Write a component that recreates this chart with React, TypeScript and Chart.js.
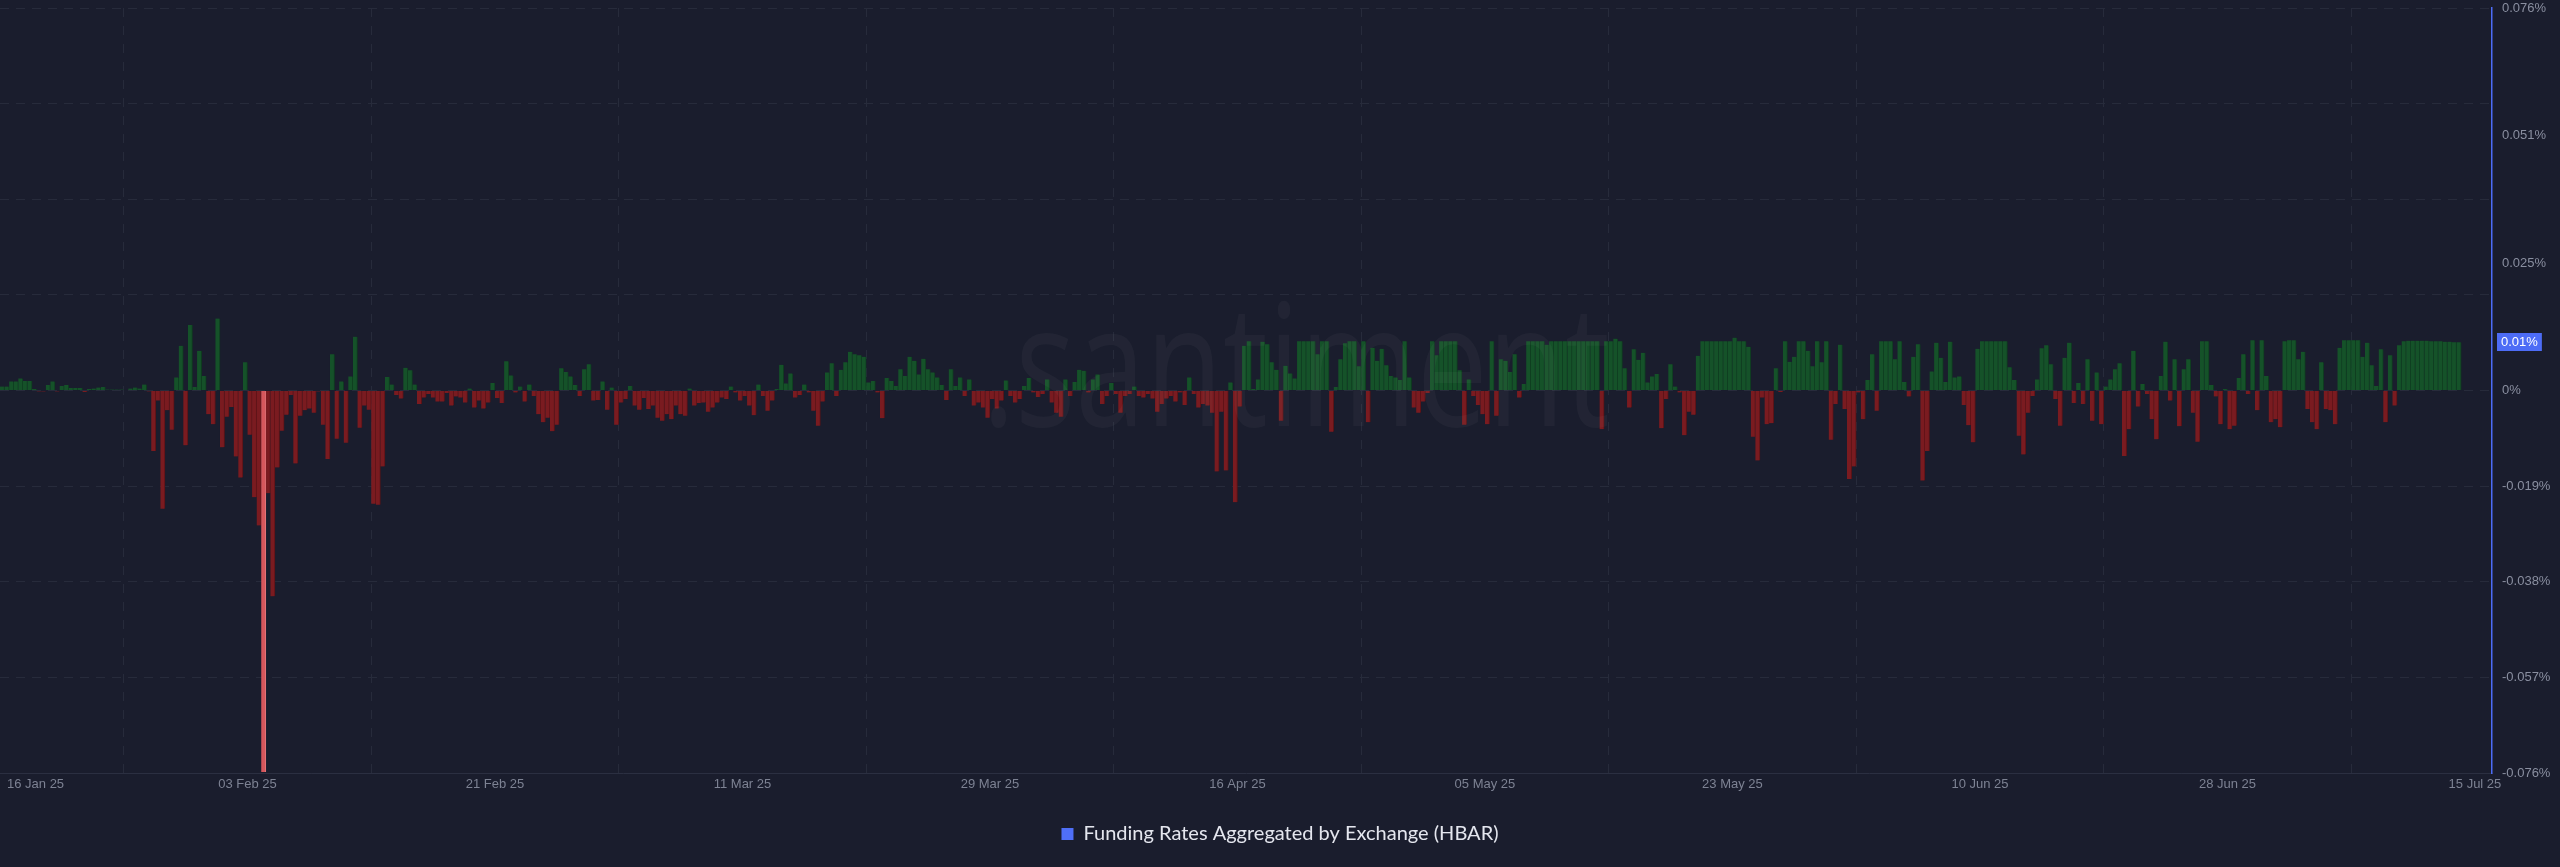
import React, { useEffect, useRef } from "react";
import { Chart, registerables } from "chart.js";

Chart.register(...registerables);

// ---- data ----
const SERIES_NAME = "Funding Rates Aggregated by Exchange (HBAR)";
const PERIODS_PER_DAY = 3; // 8h funding periods, first period starts 16 Jan 25

// funding rate (%) per 8h period
const ratesJan = [
  0.0008, 0.0008, 0.0018, 0.0018, 0.0024, 0.0019, 0.0019, 0.0003, -0.0002, -0.0002,
  0.0011, 0.0018, -0.0002, 0.0009, 0.0011, 0.0005, 0.0005, 0.0005, -0.0003, 0.0003,
  0.0004, 0.0006, 0.0007, 0.0002, 0.0002, 0.0002, 0.0002, 0.0001, 0.0004, 0.0006,
  0.0004, 0.0012, -0.0002, -0.012, -0.002, -0.0235, -0.0039, -0.0078, 0.0026, 0.0089,
  -0.0109, 0.013, 0.0007, 0.0079, 0.0029, -0.0047, -0.0067, 0.0143,
];
const ratesFeb = [
  -0.0113, -0.0052, -0.0033, -0.0131, -0.0173, 0.0056, -0.0088, -0.0212, -0.0268, -0.0758,
  -0.0204, -0.0409, -0.0153, -0.008, -0.0048, -0.0009, -0.0145, -0.005, -0.0039, -0.0036,
  -0.0044, -0.0002, -0.0068, -0.0136, 0.0072, -0.0096, 0.0018, -0.0104, 0.0028, 0.0107,
  -0.0074, -0.003, -0.0038, -0.0225, -0.0227, -0.0151, 0.0027, 0.0012, -0.0009, -0.0016,
  0.0045, 0.004, 0.0012, -0.0027, -0.0014, -0.0007, -0.0014, -0.0022, -0.0022, -0.0005,
  -0.003, -0.0012, -0.0014, -0.0024, 0.0004, -0.0034, -0.002, -0.0036, -0.0024, 0.0015,
  -0.0015, -0.0025, 0.0058, 0.003, -0.0004, 0.0008, -0.0022, 0.0012, -0.0011, -0.0047,
  -0.0063, -0.0054, -0.0081, -0.0068, 0.0044, 0.0037, 0.0028, 0.0011, -0.0011, 0.0042,
  0.0052, -0.002, -0.0019, 0.0018,
];
const ratesMar = [
  -0.0038, 0.0006, -0.0068, -0.0024, -0.0017, 0.0009, -0.003, -0.0038, -0.0015, -0.0037,
  -0.003, -0.0054, -0.006, -0.0047, -0.0057, -0.003, -0.0047, -0.005, 0.0004, -0.003,
  -0.0025, -0.0024, -0.0042, -0.0034, -0.0024, -0.0014, -0.0017, 0.0008, -0.0004, -0.002,
  -0.0011, -0.003, -0.0049, 0.0012, -0.0011, -0.004, -0.002, 0.0003, 0.0051, 0.0014,
  0.0034, -0.0014, -0.0009, 0.0012, -0.0004, -0.004, -0.007, -0.0022, 0.0036, 0.0054,
  -0.0011, 0.0041, 0.0056, 0.0077, 0.0072, 0.007, 0.0067, 0.0016, 0.0019, -0.0004,
  -0.0055, 0.0025, 0.0019, 0.0009, 0.0042, 0.0029, 0.0067, 0.0059, 0.0032, 0.0063,
  0.0042, 0.0036, 0.0026, 0.0011, -0.0019, 0.0042, 0.0009, 0.0026, -0.0011, 0.0022,
  -0.003, -0.0024, -0.0034, -0.0054, -0.0017, -0.0036, -0.002, 0.002, -0.0011, -0.0024,
  -0.0017, 0.0009, 0.0025,
];
const ratesApr = [
  -0.0004, -0.0013, -0.0007, 0.0022, -0.0024, -0.0044, -0.0052, 0.0022, -0.0011, 0.0017,
  0.0041, 0.0039, -0.0004, 0.0022, 0.0032, -0.0027, -0.0011, 0.0015, -0.0007, -0.0044,
  -0.0011, -0.0007, 0.0008, -0.0011, -0.0014, -0.0007, -0.0016, -0.0042, -0.0027, -0.0016,
  -0.0011, -0.0022, -0.0004, -0.0029, 0.0026, -0.0007, -0.0034, -0.0027, -0.003, -0.0044,
  -0.0161, -0.0042, -0.0159, 0.0016, -0.0222, -0.0032, 0.0089, 0.0098, 0.0003, 0.0022,
  0.0097, 0.0092, 0.0056, 0.0041, -0.006, 0.0049, 0.0034, 0.0024, 0.0098, 0.0098,
  0.0098, 0.0098, 0.0072, 0.0098, 0.0098, -0.0082, 0.0007, 0.0062, 0.0094, 0.0098,
  0.0098, 0.0048, 0.0098, -0.0063, 0.0085, 0.0059, 0.0083, 0.005, 0.0029, 0.0026,
  0.0021, 0.0098, 0.0026, -0.0034, -0.0044, -0.0022, -0.0005, 0.0098, 0.007, 0.0098,
];
const ratesMay = [
  0.0098, 0.0098, 0.0098, 0.004, -0.0068, 0.0022, -0.0011, -0.0029, -0.0047, -0.0067,
  0.0098, -0.005, 0.0062, 0.0059, 0.0037, 0.0072, -0.0014, 0.0013, 0.0098, 0.0098,
  0.0098, 0.0098, 0.0091, 0.0098, 0.0098, 0.0098, 0.0098, 0.0098, 0.0098, 0.0098,
  0.0098, 0.0098, 0.0098, 0.0098, -0.0077, 0.0098, 0.0098, 0.0103, 0.0098, 0.0044,
  -0.0034, 0.0082, 0.0061, 0.0075, 0.0016, 0.0028, 0.0033, -0.0075, -0.0017, 0.0052,
  0.0008, -0.0004, -0.0089, -0.0042, -0.0048, 0.0069, 0.0098, 0.0098, 0.0098, 0.0098,
  0.0098, 0.0098, 0.0098, 0.0105, 0.0098, 0.0098, 0.0087, -0.0092, -0.0139, -0.0014,
  -0.0067, -0.0065, 0.0044, -0.0003, 0.0098, 0.0057, 0.0067, 0.0098, 0.0098, 0.0079,
  0.0048, 0.0098, 0.0056, 0.0098, -0.0098, -0.0027, 0.0091, -0.0037, -0.0176, -0.0151,
  -0.0004, -0.0057, 0.0021,
];
const ratesJun = [
  0.0072, -0.004, 0.0098, 0.0098, 0.0098, 0.0062, 0.0098, 0.0017, -0.0012, 0.0067,
  0.0092, -0.0179, -0.012, 0.0038, 0.0095, 0.0065, 0.0017, 0.0097, 0.0026, 0.0028,
  -0.0029, -0.0069, -0.0103, 0.0083, 0.0098, 0.0098, 0.0098, 0.0098, 0.0098, 0.0098,
  0.0046, 0.0021, -0.009, -0.0127, -0.0044, -0.0011, 0.0022, 0.0084, 0.009, 0.0052,
  -0.0017, -0.007, 0.0065, 0.0095, -0.0025, 0.0015, -0.0027, 0.0062, -0.006, 0.0036,
  -0.0067, 0.0008, 0.0022, 0.0042, 0.0054, -0.013, -0.0077, 0.0079, -0.0032, 0.0013,
  -0.0007, -0.0057, -0.0097, 0.0029, 0.0097, -0.002, 0.0062, -0.0071, 0.0042, 0.0062,
  -0.0044, -0.0102, 0.0098, 0.0098, 0.0011, -0.0012, -0.0067, 0.0003, -0.0077, -0.007,
  0.0025, 0.0072, -0.0007, 0.01, -0.0039, 0.01, 0.0029, -0.0063, -0.0057, -0.0073,
];
const ratesJul = [
  0.0098, 0.01, 0.01, 0.0062, 0.0077, -0.0037, -0.0063, -0.0077, 0.0056, -0.0037,
  -0.0039, -0.0067, 0.0085, 0.01, 0.01, 0.01, 0.01, 0.0067, 0.0095, 0.005,
  0.0009, 0.0082, -0.0063, 0.007, -0.003, 0.009, 0.0098, 0.0099, 0.0099, 0.0099,
  0.0099, 0.0099, 0.0098, 0.0098, 0.0098, 0.0097, 0.0097, 0.0096, 0.0096,
];

const HIGHLIGHT_INDEX = 57; // hovered bar in the screenshot

// x axis (days after 16 Jan 25)
const xTickDays = [0, 18, 36, 54, 72, 90, 108, 126, 144, 162, 180];
const xTickLabels = [
  "16 Jan 25", "03 Feb 25", "21 Feb 25", "11 Mar 25", "29 Mar 25", "16 Apr 25",
  "05 May 25", "23 May 25", "10 Jun 25", "28 Jun 25", "15 Jul 25",
];
const X_MAX_DAYS = 181.24;

// y axis
const Y_MIN = -0.076;
const Y_MAX = 0.076;
const yTickValues = [-0.076, -0.057, -0.038, -0.019, 0, 0.019, 0.0253, 0.038, 0.0507, 0.057, 0.076];
const yTickLabels = ["-0.076%", "-0.057%", "-0.038%", "-0.019%", "0%", "", "0.025%", "", "0.051%", "", "0.076%"];
const yTickHasGrid = [true, true, true, true, true, true, false, true, false, true, true];

// ---- styling ----
const BG = "#1a1d2d";
const GREEN = "#155229";
const GREEN_EDGE = "#0f3b20";
const RED = "#7a1b20";
const RED_EDGE = "#5a1317";
const HIGHLIGHT = "#d6575c";
const HIGHLIGHT_EDGE = "#e57a7d";
const GRID = "#272b3b";
const AXIS_BLUE = "#4d6cf6";
const TICK_COLOR = "#8a8fa0";
const FONT = '"Liberation Sans", Arial, sans-serif';

export default function App() {
  const canvasRef = useRef<HTMLCanvasElement | null>(null);

  useEffect(() => {
    document.body.style.margin = "0";
    document.body.style.background = BG;
    const canvas = canvasRef.current;
    if (!canvas) return;

    const rates = [...ratesJan, ...ratesFeb, ...ratesMar, ...ratesApr, ...ratesMay, ...ratesJun, ...ratesJul];
    const points = rates.map((v, i) => ({ x: (i + 0.5) / PERIODS_PER_DAY, y: v }));
    const lastValue = rates[rates.length - 1];

    const decor = {
      id: "decor",
      beforeDraw(chart: any) {
        const { ctx, width, height } = chart;
        ctx.save();
        ctx.fillStyle = BG;
        ctx.fillRect(0, 0, width, height);
        ctx.restore();
      },
      afterDatasetsDraw(chart: any) {
        const { ctx } = chart;
        ctx.save();
        const text = ".santiment";
        ctx.font = '400 170px "Open Sans", sans-serif';
        const w = ctx.measureText(text).width;
        const targetW = 628;
        ctx.translate(982, 426);
        ctx.scale(targetW / w, 1);
        ctx.fillStyle = "rgba(255,255,255,0.037)";
        ctx.textBaseline = "alphabetic";
        ctx.textAlign = "left";
        ctx.fillText(text, 0, 0);
        ctx.restore();
      },
      afterDraw(chart: any) {
        const { ctx, width } = chart;
        const xs = chart.scales.x;
        const ys = chart.scales.y;
        ctx.save();
        ctx.font = `13px ${FONT}`;
        ctx.fillStyle = "#7d8293";
        ctx.textBaseline = "middle";
        ctx.textAlign = "center";
        xTickDays.forEach((d, i) => {
          const label = xTickLabels[i];
          const w = ctx.measureText(label).width;
          let cx = xs.getPixelForValue(d);
          cx = Math.max(cx, 7 + w / 2);
          cx = Math.min(cx, width - 4 - w / 2);
          ctx.fillText(label, cx, xs.top + 11);
        });
        // last value badge
        const y = ys.getPixelForValue(lastValue);
        const badgeText = `${lastValue.toFixed(2)}%`;
        ctx.font = `13px ${FONT}`;
        const bw = ctx.measureText(badgeText).width + 8;
        const bx = chart.chartArea.right + 5;
        ctx.fillStyle = AXIS_BLUE;
        ctx.fillRect(bx, Math.round(y - 9), bw, 18);
        ctx.fillStyle = "#ffffff";
        ctx.textAlign = "left";
        ctx.fillText(badgeText, bx + 4, y);
        ctx.restore();
      },
    };

    const chart = new Chart(canvas, {
      type: "bar",
      data: {
        datasets: [
          {
            label: SERIES_NAME,
            data: points as any,
            backgroundColor: (c: any) =>
              c.dataIndex === HIGHLIGHT_INDEX ? HIGHLIGHT : (c.raw && c.raw.y >= 0 ? GREEN : RED),
            borderColor: (c: any) =>
              c.dataIndex === HIGHLIGHT_INDEX ? HIGHLIGHT_EDGE : (c.raw && c.raw.y >= 0 ? GREEN_EDGE : RED_EDGE),
            borderWidth: { left: 0, right: 1, top: 0, bottom: 0 } as any,
            borderSkipped: false,
            barPercentage: 1,
            categoryPercentage: 1,
          },
        ],
      },
      options: {
        animation: false,
        responsive: false,
        devicePixelRatio: 1,
        layout: { padding: { top: 8, left: 0, right: 0, bottom: 13 } },
        scales: {
          x: {
            type: "linear",
            min: 0,
            max: X_MAX_DAYS,
            offset: false,
            afterBuildTicks: (s: any) => {
              s.ticks = xTickDays.map((v) => ({ value: v }));
            },
            afterFit: (s: any) => {
              s.height = 41;
              s.paddingLeft = 0;
              s.paddingRight = 0;
            },
            ticks: { display: false, autoSkip: false },
            grid: { color: GRID, drawTicks: false, tickLength: 0, lineWidth: 1 },
            border: { display: true, color: "#2b2f41", width: 1, dash: [9, 9] },
          },
          y: {
            type: "linear",
            position: "right",
            min: Y_MIN,
            max: Y_MAX,
            afterBuildTicks: (s: any) => {
              s.ticks = yTickValues.map((v) => ({ value: v }));
            },
            afterFit: (s: any) => {
              s.width = 68;
              s.paddingTop = 0;
              s.paddingBottom = 0;
            },
            ticks: {
              autoSkip: false,
              padding: 10,
              color: TICK_COLOR,
              font: { size: 13, family: FONT },
              callback: (_v: any, i: number) => yTickLabels[i],
            },
            grid: {
              drawTicks: false,
              tickLength: 0,
              color: (c: any) => (yTickHasGrid[c.index] ? GRID : "rgba(0,0,0,0)"),
            },
            border: { display: true, color: AXIS_BLUE, width: 1.5, dash: [9, 7] },
          },
        },
        plugins: {
          tooltip: { enabled: false },
          legend: {
            display: true,
            position: "bottom",
            labels: {
              boxWidth: 12,
              boxHeight: 12,
              padding: 10,
              color: "#e4e6ee",
              font: { size: 20, family: "Lato, sans-serif" },
              generateLabels: () => [
                {
                  text: SERIES_NAME,
                  fillStyle: "#4f6ff7",
                  strokeStyle: "#4f6ff7",
                  lineWidth: 0,
                  hidden: false,
                  datasetIndex: 0,
                  fontColor: "#e4e6ee",
                } as any,
              ],
            },
          },
        },
      } as any,
      plugins: [decor],
    });

    return () => chart.destroy();
  }, []);

  return (
    <div style={{ width: 2560, height: 867, background: BG }}>
      <canvas ref={canvasRef} width={2560} height={867} style={{ width: 2560, height: 867, display: "block" }} />
    </div>
  );
}
